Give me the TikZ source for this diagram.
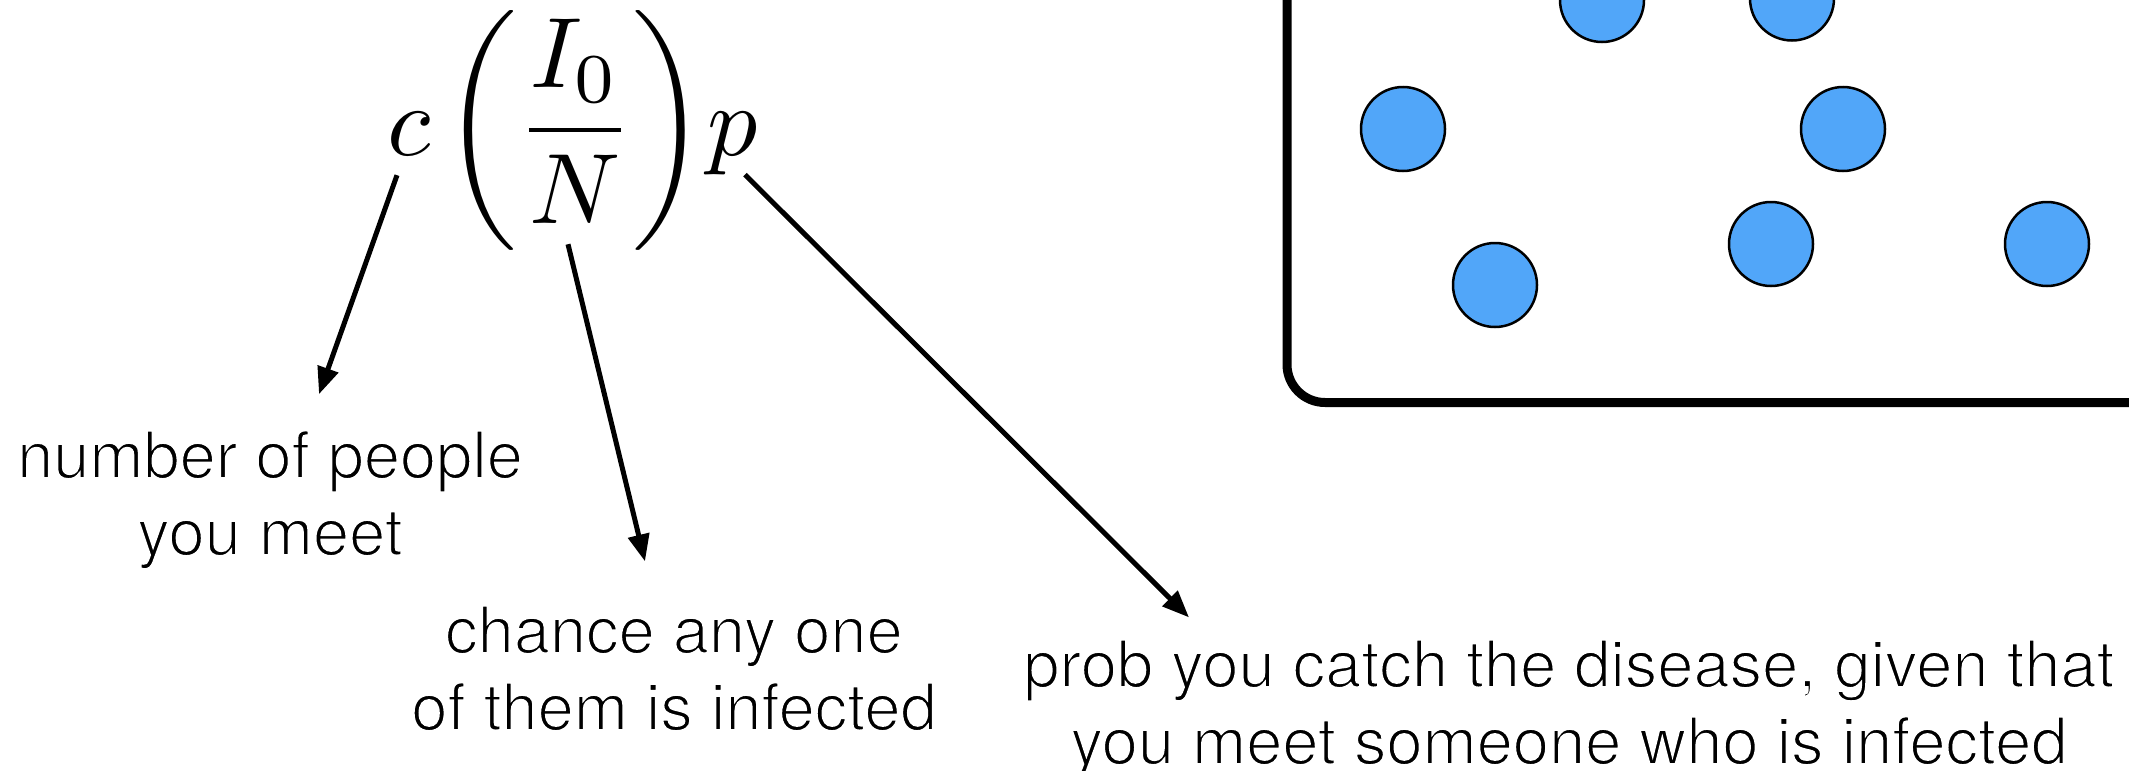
\documentclass[tikz,border=0pt]{standalone}
\usepackage{fontspec}
\usepackage{graphicx}
\usetikzlibrary{arrows.meta}
\newfontfamily\labelfont{TeX Gyre Heros}
\definecolor{dot}{RGB}{81,166,249}
% thin the glyph strokes of the captions: fill, then stroke the outline in white
\newcommand\thinstrokeon{\special{pdf:literal direct 2 Tr 1 G 1.8 w}}
\newcommand\thinstrokeoff{\special{pdf:literal direct 0 Tr 0 G}}
\tikzset{
  formula/.style={inner sep=0pt, anchor=base},
  caption/.style={inner sep=0pt, align=center, anchor=base,
    font=\labelfont\fontsize{65}{77}\selectfont,
    execute at begin node=\thinstrokeon,
    execute at end node=\thinstrokeoff},
  pointer/.style={-{Triangle[length=27pt,width=21pt]}, line width=5pt},
  person/.style={circle, draw=black, fill=dot, line width=2.5pt,
    minimum size=84pt, inner sep=0pt},
  frame/.style={line width=9pt, rounded corners=38pt}
}
\begin{document}
\begin{tikzpicture}[x=1pt,y=-1pt]
\useasboundingbox (0,0) rectangle (2129,771);
\clip (0,0) rectangle (2129,771);

% population box with its people
\draw[frame] (1287,-100) -- (1287,402.5) -- (2300,402.5);
\foreach \n/\px/\py in {1/1602/0, 2/1792/-1.5, 3/1403/129, 4/1843/129,
                        5/1495/285, 6/1771/244, 7/2047/244}
  \node[person] (dot\n) at (\px,\py) {};

% the three factors of the infection rate
\node[formula] (fc) at (409,155) {\scalebox{10}{$c$}};
\node[inner sep=0pt] (ffrac) at (575,130)
  {\scalebox{10}{$\displaystyle\left(\frac{I_0}{N}\right)$}};
\node[formula] (fp) at (733,155) {\scalebox{10}{$p$}};

% explanations (anchored at the baseline of their last line)
\node[caption] (lc) at (270,555) {number of people\\you meet};
\node[caption] (lf) at (674,730) {chance any one\\of them is infected};
\node[caption] (lp) at (1569,764)
  {prob you catch the disease, given that\\you meet someone who is infected};

\draw[pointer] ([shift={(-12,20)}]fc.south) -- ([shift={(49,-36)}]lc.north);
\draw[pointer] ([shift={(-7,-6)}]ffrac.south) -- ([shift={(-29,-44)}]lf.north);
\draw[pointer] ([shift={(12,0)}]fp.south) -- ([shift={(-380,-22)}]lp.north);
\end{tikzpicture}
\end{document}
